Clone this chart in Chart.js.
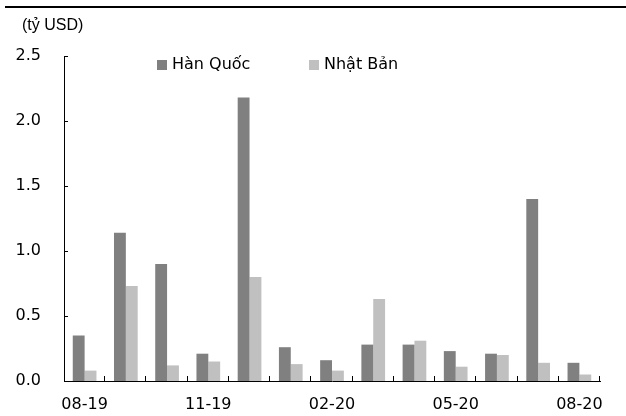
<!DOCTYPE html>
<html lang="vi">
<head>
<meta charset="utf-8">
<title>Hàn Quốc, Nhật Bản</title>
<script src="https://cdn.jsdelivr.net/npm/chart.js@4.4.1/dist/chart.umd.min.js"></script>
<style>
  html, body { margin: 0; padding: 0; background: #fff; }
  #wrap { position: relative; width: 626px; height: 416px; }
  #rule { position: absolute; left: 5px; right: 0; top: 6px; height: 2px; background: #000; }
  #unit { position: absolute; left: 22px; top: 16px; font: 16px "Liberation Sans", Arial, sans-serif; color: #000; }
  canvas { position: absolute; left: 0; top: 0; }
</style>
</head>
<body>
<div id="wrap">
  <canvas id="chart" width="626" height="416"></canvas>
  <div id="rule"></div>
  <div id="unit">(tỷ USD)</div>
</div>
<script>
// ---- dữ liệu theo tháng (tỷ USD) ----
const months = ['08-19', '09-19', '10-19', '11-19', '12-19', '01-20', '02-20',
                '03-20', '04-20', '05-20', '06-20', '07-20', '08-20'];
const hanQuoc = [0.35, 1.14, 0.90, 0.21, 2.18, 0.26, 0.16, 0.28, 0.28, 0.23, 0.21, 1.40, 0.14];
const nhatBan = [0.08, 0.73, 0.12, 0.15, 0.80, 0.13, 0.08, 0.63, 0.31, 0.11, 0.20, 0.14, 0.05];
const yMin = 0, yMax = 2.5, yStep = 0.5;
const labelEvery = 3; // chỉ hiện nhãn mỗi 3 tháng

Chart.defaults.font.family = '"DejaVu Sans", Verdana, sans-serif';
Chart.defaults.font.size = 16;
Chart.defaults.color = '#000';

// vạch chia hướng vào trong, giống kiểu Excel
const innerTicks = {
    id: 'innerTicks',
    afterDatasetsDraw(chart) {
        const { ctx, chartArea: a, scales: { y } } = chart;
        const step = (a.right - a.left) / months.length;
        ctx.save();
        ctx.strokeStyle = '#000';
        ctx.lineWidth = 1;
        ctx.beginPath();
        y.ticks.forEach((t, i) => {
            const py = Math.round(y.getPixelForTick(i)) + 0.5;
            ctx.moveTo(a.left, py);
            ctx.lineTo(a.left + 4, py);
        });
        for (let i = 1; i <= months.length; i++) {
            const px = Math.round(a.left + i * step) - 0.5;
            ctx.moveTo(px, a.bottom);
            ctx.lineTo(px, a.bottom - 5);
        }
        ctx.stroke();
        ctx.restore();
    }
};

// chú thích vẽ tay, đặt trong vùng biểu đồ
const legendX = [157, 309];
const keyLegend = {
    id: 'keyLegend',
    afterDraw(chart) {
        const { ctx } = chart;
        ctx.save();
        ctx.font = '16px "DejaVu Sans", Verdana, sans-serif';
        ctx.textBaseline = 'middle';
        chart.data.datasets.forEach((ds, i) => {
            const x0 = legendX[i];
            ctx.fillStyle = ds.backgroundColor;
            ctx.fillRect(x0, 60, 10, 10);
            ctx.fillStyle = '#000';
            ctx.fillText(ds.label, x0 + 15, 65);
        });
        ctx.restore();
    }
};

new Chart(document.getElementById('chart'), {
    type: 'bar',
    data: {
        labels: months,
        datasets: [
            { label: 'Hàn Quốc', data: hanQuoc, backgroundColor: '#808080' },
            { label: 'Nhật Bản', data: nhatBan, backgroundColor: '#c0c0c0' }
        ]
    },
    options: {
        responsive: false,
        animation: false,
        layout: { padding: { top: 56, right: 26, bottom: 0, left: 0 } },
        datasets: { bar: { categoryPercentage: 0.575, barPercentage: 1.0, borderWidth: 0 } },
        plugins: { legend: { display: false }, tooltip: { enabled: false } },
        scales: {
            x: {
                offset: true,
                grid: { display: false, drawTicks: false },
                border: { display: true, color: '#000', width: 1 },
                ticks: {
                    autoSkip: false,
                    maxRotation: 0,
                    padding: 14,
                    callback: (v, i) => (i % labelEvery === 0 ? months[i] : '')
                },
                afterFit: (s) => { s.height = 35; }
            },
            y: {
                min: yMin,
                max: yMax,
                grid: { display: false, drawTicks: false },
                border: { display: true, color: '#000', width: 1 },
                ticks: { stepSize: yStep, padding: 23, callback: (v) => v.toFixed(1) },
                afterFit: (s) => { s.width = 64; }
            }
        }
    },
    plugins: [innerTicks, keyLegend]
});
</script>
</body>
</html>
